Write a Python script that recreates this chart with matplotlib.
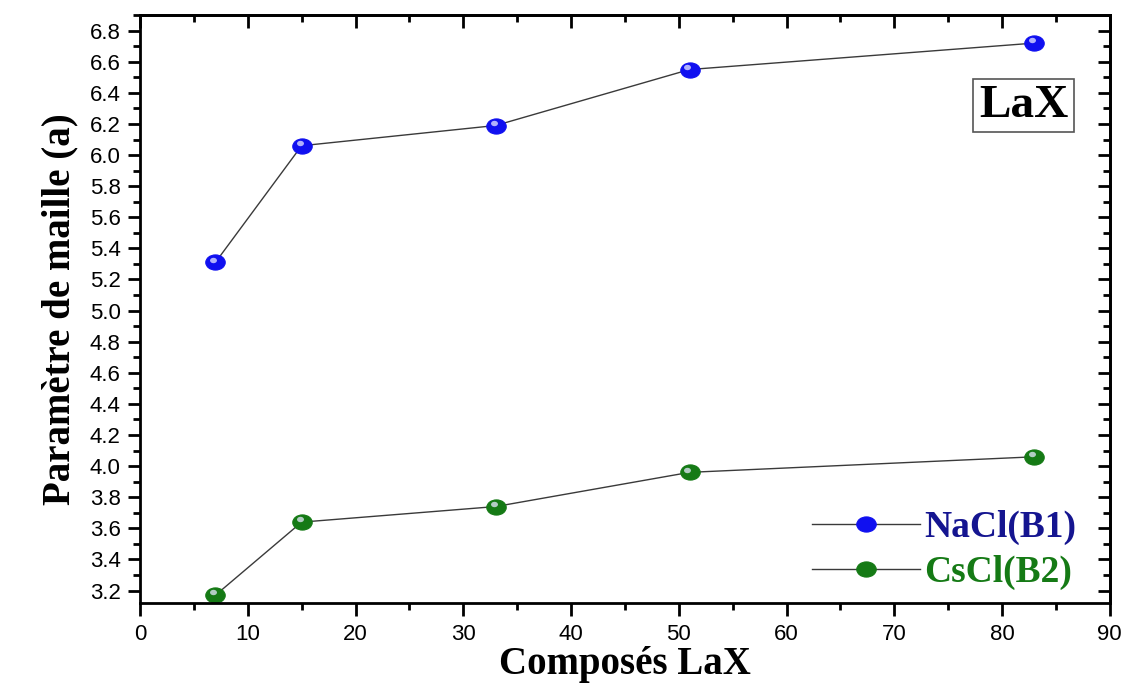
import numpy as np
import matplotlib.pyplot as plt
from matplotlib.path import Path
from matplotlib.transforms import Affine2D, offset_copy
from matplotlib.ticker import MultipleLocator

# data
x_comp = [7, 15, 33, 51, 83]
a_nacl = [5.31, 6.06, 6.19, 6.55, 6.72]
a_cscl = [3.17, 3.64, 3.74, 3.96, 4.06]
labels = ["NaCl(B1)", "CsCl(B2)"]

blue = "#1010f0"
green = "#157a15"
serif = "Liberation Serif"
sans = "Liberation Sans"

# slightly flattened ball marker
ball = Path.unit_circle().transformed(Affine2D().scale(1.0, 0.78))

fig = plt.figure(figsize=(11.29, 6.86), dpi=100)
ax = fig.add_axes([0.124, 0.121, 0.859, 0.857])

for y, c, lab in [(a_nacl, blue, labels[0]), (a_cscl, green, labels[1])]:
    ax.plot(x_comp, y, '-', color="#3a3a3a", lw=1.0, marker=ball, markersize=14,
            markerfacecolor=c, markeredgecolor=c, markeredgewidth=0.8, label=lab)
    # little highlight to mimic the shaded spheres
    hl = offset_copy(ax.transData, fig=fig, x=-1.5, y=2.0, units='points')
    ax.plot(x_comp, y, ls='', marker=ball, markersize=5, markerfacecolor="#e8e8ff",
            markeredgecolor='none', alpha=0.75, transform=hl)

ax.set_xlim(0, 90)
ax.set_ylim(3.12, 6.90)
ax.xaxis.set_major_locator(MultipleLocator(10))
ax.xaxis.set_minor_locator(MultipleLocator(5))
ax.yaxis.set_major_locator(MultipleLocator(0.2))
ax.yaxis.set_minor_locator(MultipleLocator(0.1))
ax.yaxis.set_major_formatter(plt.FormatStrFormatter('%.1f'))

for s in ax.spines.values():
    s.set_linewidth(2)
ax.tick_params(which='major', direction='out', length=9, width=2, labelsize=16)
ax.tick_params(axis='y', which='major', pad=5)
ax.tick_params(axis='x', which='major', pad=6)
ax.tick_params(which='minor', direction='out', length=5, width=2)
for lab in ax.get_xticklabels() + ax.get_yticklabels():
    lab.set_fontfamily(sans)

# mirrored ticks pointing inward on top and right
top = ax.secondary_xaxis('top')
top.xaxis.set_major_locator(MultipleLocator(10))
top.xaxis.set_minor_locator(MultipleLocator(5))
top.tick_params(which='major', direction='in', length=9, width=2, labeltop=False)
top.tick_params(which='minor', direction='in', length=5, width=2)
right = ax.secondary_yaxis('right')
right.yaxis.set_major_locator(MultipleLocator(0.2))
right.yaxis.set_minor_locator(MultipleLocator(0.1))
right.tick_params(which='major', direction='in', length=9, width=2, labelright=False)
right.tick_params(which='minor', direction='in', length=5, width=2)
top.spines['top'].set_linewidth(2)
right.spines['right'].set_linewidth(2)

ax.set_xlabel("Composés LaX", fontfamily=serif, fontweight='bold', fontsize=28, labelpad=1)
ax.set_ylabel("Paramètre de maille (a)", fontfamily=serif, fontweight='bold', fontsize=28, labelpad=8)

ax.text(0.911, 0.846, "LaX", transform=ax.transAxes, ha='center', va='center',
        fontfamily=serif, fontweight='bold', fontsize=34,
        bbox=dict(boxstyle='square,pad=0.12', fc='white', ec='#555555', lw=1.2))

leg = ax.legend(loc='lower right', bbox_to_anchor=(1.0, -0.035), frameon=False,
                handlelength=2.9, handletextpad=0.1, labelspacing=0.25,
                prop=dict(family=serif, weight='bold', size=27))
for t, c in zip(leg.get_texts(), ["#151590", green]):
    t.set_color(c)

fig.savefig("out.png", dpi=100)
